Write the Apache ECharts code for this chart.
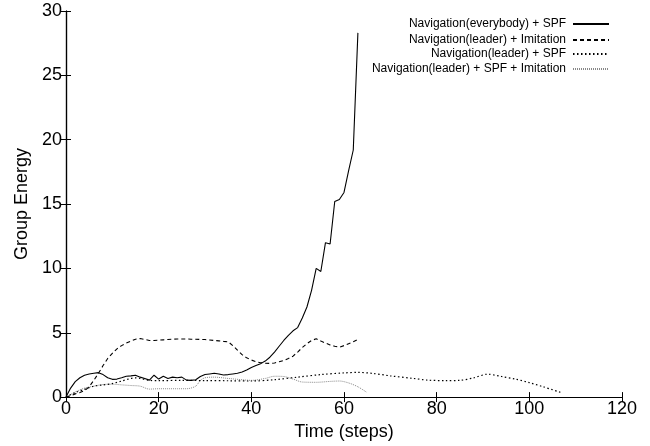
<!DOCTYPE html>
<html>
<head>
<meta charset="utf-8">
<script src="https://cdn.jsdelivr.net/npm/echarts@6/dist/echarts.min.js"></script>
<style>
  html, body { margin: 0; padding: 0; background: #fff; }
  #chart { width: 650px; height: 446px; }
</style>
</head>
<body>
<div id="chart"></div>
<script>
// series names
var names = [
    'Navigation(everybody) + SPF',
    'Navigation(leader) + Imitation',
    'Navigation(leader) + SPF',
    'Navigation(leader) + SPF + Imitation'
];

// Navigation(everybody) + SPF
var t1 = [0, 1, 2, 3, 4, 5, 6, 7, 8, 9, 10, 11, 12, 13, 14, 15, 16, 17, 18, 19, 20, 21, 22, 23, 24, 25, 26, 27, 28, 29, 30, 31,
    32, 33, 34, 35, 36, 37, 38, 39, 40, 41, 42, 43, 44, 45, 46, 47, 48, 49, 50, 51, 52, 53, 54, 55, 56, 57, 58, 59, 60, 61, 62, 63];
var v1 = [0, 0.7, 1.2, 1.5, 1.7, 1.8, 1.85, 1.9, 1.75, 1.5, 1.38, 1.4, 1.5, 1.62, 1.65, 1.7, 1.55, 1.45, 1.32, 1.7, 1.4, 1.62,
    1.45, 1.55, 1.5, 1.55, 1.32, 1.3, 1.35, 1.6, 1.75, 1.8, 1.85, 1.8, 1.72, 1.75, 1.8, 1.85, 1.95, 2.1, 2.3, 2.45, 2.6, 2.8,
    3.1, 3.5, 3.95, 4.4, 4.8, 5.15, 5.4, 6.15, 7.0, 8.3, 10.0, 9.76, 12.0, 11.9, 15.2, 15.35, 15.9, 17.6, 19.2, 28.3];

// Navigation(leader) + Imitation
var t2 = t1;
var v2 = [0, 0.1, 0.25, 0.35, 0.5, 0.8, 1.3, 1.85, 2.45, 3.0, 3.4, 3.75, 4.0, 4.2, 4.35, 4.5, 4.55, 4.48, 4.4, 4.4, 4.42,
    4.45, 4.48, 4.5, 4.52, 4.52, 4.52, 4.5, 4.5, 4.48, 4.47, 4.44, 4.4, 4.37, 4.33, 4.3, 4.0, 3.65, 3.3, 3.05, 2.88, 2.75,
    2.67, 2.63, 2.62, 2.65, 2.75, 2.85, 3.0, 3.18, 3.5, 3.85, 4.15, 4.4, 4.53, 4.35, 4.2, 4.05, 3.95, 3.88, 4.0, 4.15, 4.3, 4.48];

// Navigation(leader) + SPF
var t3 = [0, 2, 4, 6, 8, 10, 12, 14, 15, 16, 18, 20, 25, 30, 35, 40, 45, 50, 55, 60, 63, 66, 70, 75, 78, 82, 85, 88, 91, 94, 97, 100, 103, 107];
var v3 = [0, 0.35, 0.6, 0.85, 0.95, 1.05, 1.25, 1.45, 1.5, 1.45, 1.3, 1.28, 1.3, 1.28, 1.27, 1.25, 1.35, 1.55, 1.75, 1.88, 1.92,
    1.85, 1.65, 1.45, 1.32, 1.28, 1.3, 1.5, 1.78, 1.6, 1.4, 1.12, 0.8, 0.34];

// Navigation(leader) + SPF + Imitation
var t4 = [0, 2, 4, 6, 8, 10, 12, 14, 16, 18, 20, 22, 24, 26, 28, 29, 30, 32, 35, 38, 40, 43, 45, 47, 49, 51, 54, 57, 59, 61, 63, 65];
var v4 = [0, 0.4, 0.7, 0.85, 0.98, 1.0, 0.95, 0.9, 0.85, 0.62, 0.65, 0.65, 0.65, 0.65, 0.85, 1.3, 1.5, 1.55, 1.45, 1.35, 1.3,
    1.45, 1.62, 1.6, 1.4, 1.17, 1.15, 1.22, 1.25, 1.1, 0.8, 0.35];

var xTicks = [0, 120, 20];
var yTicks = [0, 30, 5];

function pairs(t, v) {
    return t.map(function (x, i) { return [x, v[i]]; });
}

var font = 'Liberation Sans, Helvetica, Arial, sans-serif';
var styles = [
    { color: '#000', type: 'solid', width: 1.1 },
    { color: '#000', type: [4, 3], width: 1.1 },
    { color: '#000', type: [1.5, 2.5], width: 1.2 },
    { color: '#888', type: [1, 1], width: 1 }
];
var datas = [pairs(t1, v1), pairs(t2, v2), pairs(t3, v3), pairs(t4, v4)];
var smooths = [false, false, 0.3, 0.3];

var chart = echarts.init(document.getElementById('chart'), null, { renderer: 'canvas' });

// one legend per row so the right edges line up like gnuplot's key
var legendTops = [18, 34, 48, 63];
var legends = names.map(function (n, i) {
    return {
        data: [n],
        right: 40,
        top: legendTops[i],
        align: 'right',
        itemWidth: 36,
        itemHeight: 10,
        itemGap: 0,
        padding: 0,
        selectedMode: false,
        itemStyle: { opacity: 0 },
        textStyle: { fontFamily: font, fontSize: 12, color: '#000', padding: [0, 2, 0, 0] }
    };
});

var axisLine = { show: true, lineStyle: { color: '#000', width: 1.2 } };
var tick = { show: true, inside: true, length: 5, lineStyle: { color: '#000', width: 1 } };
var labels = { fontFamily: font, fontSize: 18, color: '#000' };

var option = {
    backgroundColor: '#fff',
    animation: false,
    legend: legends,
    grid: { left: 66, right: 28, top: 11, bottom: 48, containLabel: false },
    xAxis: [{
        type: 'value',
        min: xTicks[0], max: xTicks[1], interval: xTicks[2],
        name: 'Time (steps)',
        nameLocation: 'middle',
        nameGap: 24,
        nameTextStyle: labels,
        axisLine: axisLine,
        axisTick: tick,
        axisLabel: Object.assign({ margin: 3 }, labels),
        splitLine: { show: false }
    }, {
        type: 'value',
        position: 'top',
        min: xTicks[0], max: xTicks[1], interval: xTicks[2],
        axisLine: axisLine,
        axisTick: tick,
        axisLabel: { show: false },
        splitLine: { show: false }
    }],
    yAxis: [{
        type: 'value',
        min: yTicks[0], max: yTicks[1], interval: yTicks[2],
        name: 'Group Energy',
        nameLocation: 'middle',
        nameGap: 35,
        nameTextStyle: labels,
        axisLine: axisLine,
        axisTick: tick,
        axisLabel: Object.assign({ margin: 4 }, labels),
        splitLine: { show: false }
    }, {
        type: 'value',
        position: 'right',
        min: yTicks[0], max: yTicks[1], interval: yTicks[2],
        axisLine: axisLine,
        axisTick: tick,
        axisLabel: { show: false },
        splitLine: { show: false }
    }],
    series: names.map(function (n, i) {
        return {
            name: n,
            type: 'line',
            xAxisIndex: 0,
            yAxisIndex: 0,
            data: datas[i],
            smooth: smooths[i],
            symbol: 'none',
            showSymbol: false,
            color: styles[i].color,
            lineStyle: styles[i],
            z: 4 - i
        };
    })
};
chart.setOption(option);
</script>
</body>
</html>
